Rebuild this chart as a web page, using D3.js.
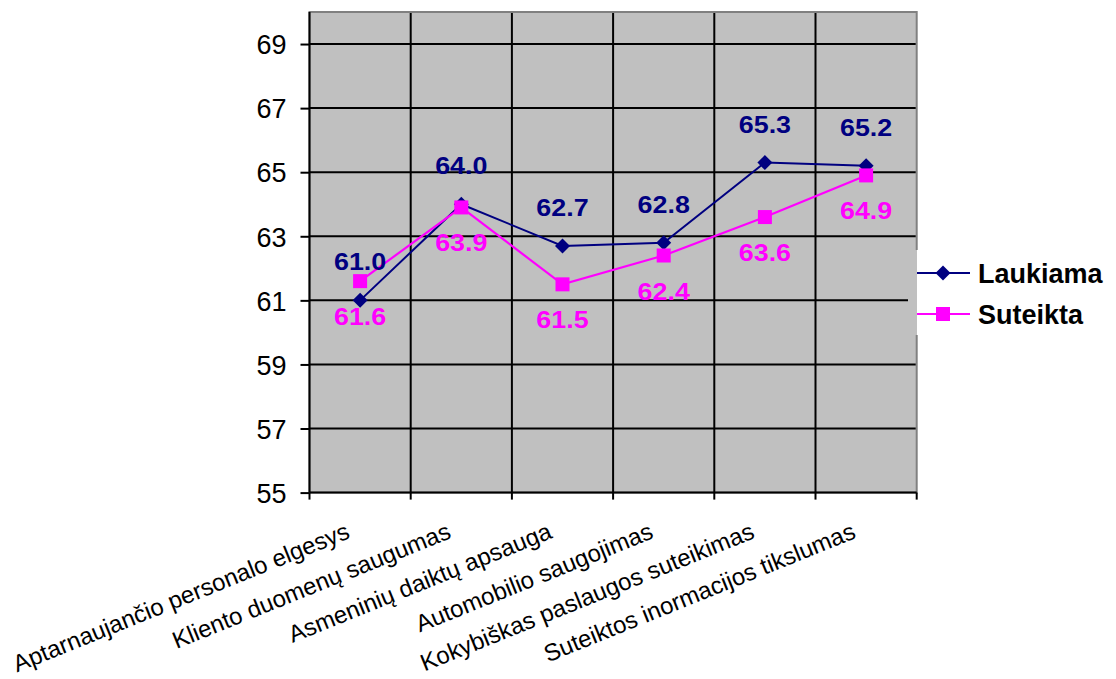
<!DOCTYPE html>
<html>
<head>
<meta charset="utf-8">
<script src="https://cdn.jsdelivr.net/npm/d3@7/dist/d3.min.js"></script>
<style>
  html, body { margin: 0; padding: 0; background: #fff; }
  svg { display: block; }
  text { font-family: Arial, "Liberation Sans", sans-serif; }
</style>
</head>
<body>
<svg id="chart" width="1116" height="679"></svg>
<script>
// Categories (service attributes)
const categories = [
  "Aptarnaujančio personalo elgesys",
  "Kliento duomenų saugumas",
  "Asmeninių daiktų apsauga",
  "Automobilio saugojimas",
  "Kokybiškas paslaugos suteikimas",
  "Suteiktos inormacijos tikslumas"
];
// Series values
const laukiama = [61.0, 64.0, 62.7, 62.8, 65.3, 65.2];
const suteikta = [61.6, 63.9, 61.5, 62.4, 63.6, 64.9];
const seriesNames = ["Laukiama", "Suteikta"];
// Value axis ticks
const yTicks = [55, 57, 59, 61, 63, 65, 67, 69];
const yDomain = [55, 70];

const svg = d3.select("#chart");
const plot = { left: 309.5, right: 916.7, top: 12, bottom: 492.6 };

const x = d3.scaleBand().domain(categories).range([plot.left, plot.right]).padding(0);
const y = d3.scaleLinear().domain(yDomain).range([plot.bottom, plot.top]);
const cx = c => x(c) + x.bandwidth() / 2;

const navy = "#000080", magenta = "#ff00ff";

// Plot area background and frame
svg.append("rect")
  .attr("x", plot.left).attr("y", plot.top)
  .attr("width", plot.right - plot.left).attr("height", plot.bottom - plot.top)
  .attr("fill", "#c0c0c0").attr("stroke", "#808080").attr("stroke-width", 2);

// Horizontal gridlines
svg.append("g").selectAll("line").data(yTicks.slice(1)).join("line")
  .attr("x1", plot.left).attr("x2", plot.right - 1)
  .attr("y1", d => y(d)).attr("y2", d => y(d))
  .attr("stroke", "#000").attr("stroke-width", 2);

// Vertical gridlines at category boundaries
svg.append("g").selectAll("line").data(categories.slice(1)).join("line")
  .attr("x1", d => x(d)).attr("x2", d => x(d))
  .attr("y1", plot.top + 1).attr("y2", plot.bottom)
  .attr("stroke", "#000").attr("stroke-width", 2);

// Value axis
const yAxis = d3.axisLeft(y).tickValues(yTicks).tickSize(9).tickPadding(14).tickFormat(d3.format("d"));
const gy = svg.append("g").attr("transform", `translate(${plot.left},0)`).call(yAxis);
gy.select(".domain").attr("stroke", "#000").attr("stroke-width", 2)
  .attr("d", `M0,${plot.top}V${plot.bottom}`);
gy.selectAll(".tick line").attr("stroke", "#000").attr("stroke-width", 2);
gy.selectAll(".tick text").attr("font-size", 27).attr("fill", "#000")
  .attr("font-family", "Arial, 'Liberation Sans', sans-serif").attr("dy", "0.36em");

// Category axis with ticks at boundaries
const gx = svg.append("g").attr("transform", `translate(0,${plot.bottom})`);
gx.append("line").attr("x1", plot.left).attr("x2", plot.right)
  .attr("stroke", "#000").attr("stroke-width", 2);
const bounds = categories.map(c => x(c)).concat([plot.right]);
gx.selectAll("line.tk").data(bounds).join("line").attr("class", "tk")
  .attr("x1", d => d).attr("x2", d => d).attr("y1", 0).attr("y2", 7)
  .attr("stroke", "#000").attr("stroke-width", 2);
gx.selectAll("text").data(categories).join("text")
  .attr("transform", d => `translate(${cx(d) - 9},${45}) rotate(-22)`)
  .attr("text-anchor", "end")
  .attr("font-size", 24).attr("fill", "#000")
  .text(d => d);

// Series lines
const line = d3.line().x((d, i) => cx(categories[i])).y(d => y(d));
svg.append("path").datum(laukiama).attr("d", line)
  .attr("fill", "none").attr("stroke", navy).attr("stroke-width", 2);
svg.append("path").datum(suteikta).attr("d", line)
  .attr("fill", "none").attr("stroke", magenta).attr("stroke-width", 2.2);

// Markers
function drawDiamond(g, px, py) {
  g.append("path").attr("d", "M0,-7.5L7.5,0L0,7.5L-7.5,0Z")
    .attr("transform", `translate(${px},${py})`).attr("fill", navy);
}
const gm = svg.append("g");
laukiama.forEach((v, i) => drawDiamond(gm, cx(categories[i]), y(v)));
svg.append("g").selectAll("rect").data(suteikta).join("rect")
  .attr("x", (d, i) => cx(categories[i]) - 7).attr("y", d => y(d) - 7)
  .attr("width", 14).attr("height", 14).attr("fill", magenta);

// Data labels (slightly widened bold face)
const fmt = d3.format(".1f");
function valueLabels(values, dy, color) {
  svg.append("g").selectAll("text").data(values).join("text")
    .attr("transform", (d, i) => `translate(${cx(categories[i])},${y(d) + dy}) scale(1.12,1)`)
    .attr("text-anchor", "middle").attr("font-size", 24).attr("font-weight", "bold")
    .attr("fill", color).text(d => fmt(d));
}
valueLabels(laukiama, -30, navy);
valueLabels(suteikta, 44, magenta);

// Legend
const leg = svg.append("g");
leg.append("rect").attr("x", 908).attr("y", 250).attr("width", 9).attr("height", 85).attr("fill", "#c0c0c0");
leg.append("rect").attr("x", 917).attr("y", 250).attr("width", 199).attr("height", 85).attr("fill", "#fff");
const legY = [273, 314];
const colors = [navy, magenta];
seriesNames.forEach((name, i) => {
  leg.append("line").attr("x1", 917).attr("x2", 970).attr("y1", legY[i]).attr("y2", legY[i])
    .attr("stroke", colors[i]).attr("stroke-width", 2);
  if (i === 0) drawDiamond(leg, 943, legY[i]);
  else leg.append("rect").attr("x", 936).attr("y", legY[i] - 7).attr("width", 14).attr("height", 14).attr("fill", magenta);
  leg.append("text").attr("x", 978).attr("y", legY[i] + 9.5)
    .attr("font-size", 27).attr("font-weight", "bold").attr("fill", "#000").text(name);
});
</script>
</body>
</html>
